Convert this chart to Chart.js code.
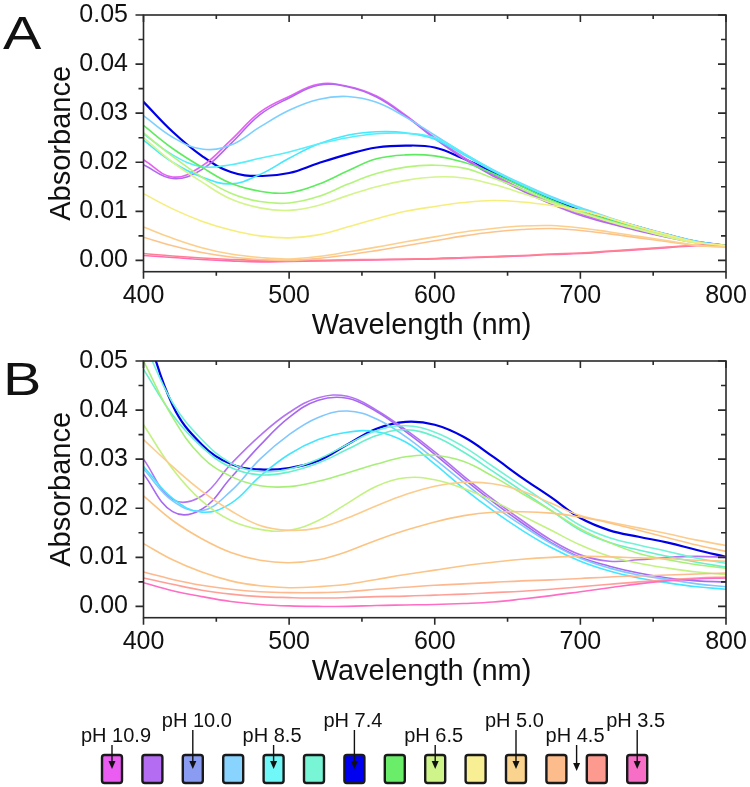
<!DOCTYPE html>
<html>
<head>
<meta charset="utf-8">
<script src="https://cdn.jsdelivr.net/npm/chart.js@4.4.0/dist/chart.umd.min.js"></script>
<style>
  body { margin: 0; background: #fff; width: 750px; height: 787px; position: relative; overflow: hidden; }
  .panel { position: absolute; left: 0; width: 750px; height: 345px; }
  #legend { position: absolute; left: 0; top: 690px; }
</style>
</head>
<body>
<div class="panel" style="top:0"><canvas id="chartA"></canvas></div>
<div class="panel" style="top:346px"><canvas id="chartB"></canvas></div>
<svg id="legend" width="750" height="97"></svg>

<script>
const FONT = '"Liberation Sans", Arial, sans-serif';

// x grid (nm) and axis ticks
const wavelengths = [400, 420, 440, 460, 480, 500, 520, 540, 560, 580, 600, 620, 640, 660, 680, 700, 720, 740, 760, 780, 800];
const xTicks = [400, 500, 600, 700, 800];
const xMinorTicks = [450, 550, 650, 750];
const yTicks = [0, 0.01, 0.02, 0.03, 0.04, 0.05];
const yMinorTicks = [0.005, 0.015, 0.025, 0.035, 0.045];

// Panel A spectra
const aMagenta = [0.0205, 0.0170, 0.0192, 0.0245, 0.0302, 0.0334, 0.0359, 0.0355, 0.0335, 0.0296, 0.0250, 0.0210, 0.0175, 0.0145, 0.0118, 0.0095, 0.0077, 0.0062, 0.0049, 0.0037, 0.0030];
const aPurple = [0.0195, 0.0167, 0.0185, 0.0238, 0.0297, 0.0331, 0.0357, 0.0354, 0.0333, 0.0294, 0.0248, 0.0207, 0.0172, 0.0142, 0.0115, 0.0092, 0.0075, 0.0060, 0.0047, 0.0036, 0.0030];
const aLightBlue = [0.0295, 0.0251, 0.0227, 0.0235, 0.0272, 0.0306, 0.0328, 0.0334, 0.0322, 0.0292, 0.0255, 0.0218, 0.0185, 0.0156, 0.0130, 0.0108, 0.0087, 0.0069, 0.0053, 0.0039, 0.0030];
const aCyan = [0.0245, 0.0200, 0.0170, 0.0156, 0.0175, 0.0208, 0.0237, 0.0255, 0.0262, 0.0260, 0.0247, 0.0215, 0.0182, 0.0153, 0.0127, 0.0105, 0.0085, 0.0067, 0.0051, 0.0037, 0.0030];
const aAqua = [0.0258, 0.0215, 0.0191, 0.0195, 0.0208, 0.0221, 0.0237, 0.0250, 0.0258, 0.0259, 0.0250, 0.0218, 0.0184, 0.0155, 0.0128, 0.0106, 0.0086, 0.0068, 0.0052, 0.0038, 0.0030];
const aBlue = [0.0323, 0.0262, 0.0213, 0.0180, 0.0172, 0.0178, 0.0198, 0.0216, 0.0230, 0.0234, 0.0230, 0.0207, 0.0180, 0.0152, 0.0125, 0.0103, 0.0085, 0.0068, 0.0052, 0.0038, 0.0030];
const aGreen = [0.0275, 0.0228, 0.0190, 0.0157, 0.0141, 0.0138, 0.0155, 0.0182, 0.0207, 0.0215, 0.0213, 0.0200, 0.0177, 0.0150, 0.0123, 0.0100, 0.0082, 0.0065, 0.0050, 0.0036, 0.0030];
const aLightGreen = [0.0260, 0.0212, 0.0170, 0.0137, 0.0120, 0.0117, 0.0130, 0.0155, 0.0177, 0.0190, 0.0194, 0.0188, 0.0168, 0.0145, 0.0120, 0.0099, 0.0080, 0.0064, 0.0049, 0.0036, 0.0030];
const aYellowGreen = [0.0250, 0.0200, 0.0160, 0.0125, 0.0107, 0.0102, 0.0112, 0.0132, 0.0150, 0.0163, 0.0170, 0.0168, 0.0155, 0.0137, 0.0117, 0.0097, 0.0079, 0.0063, 0.0048, 0.0035, 0.0030];
const aYellow = [0.0136, 0.0105, 0.0080, 0.0062, 0.0050, 0.0046, 0.0052, 0.0068, 0.0085, 0.0100, 0.0110, 0.0118, 0.0122, 0.0119, 0.0112, 0.0102, 0.0086, 0.0068, 0.0052, 0.0037, 0.0030];
const aLightOrange = [0.0068, 0.0045, 0.0026, 0.0013, 0.0006, 0.0003, 0.0008, 0.0017, 0.0027, 0.0038, 0.0048, 0.0058, 0.0065, 0.0070, 0.0071, 0.0066, 0.0058, 0.0049, 0.0040, 0.0031, 0.0027];
const aOrange = [0.0047, 0.0030, 0.0016, 0.0007, 0.0002, 0.0000, 0.0004, 0.0011, 0.0020, 0.0030, 0.0040, 0.0050, 0.0058, 0.0063, 0.0065, 0.0061, 0.0054, 0.0046, 0.0038, 0.0030, 0.0027];
const aSalmon = [0.0014, 0.0009, 0.0005, 0.0002, 0.0000, 0.0000, 0.0000, 0.0001, 0.0002, 0.0003, 0.0004, 0.0006, 0.0008, 0.0010, 0.0013, 0.0015, 0.0019, 0.0023, 0.0027, 0.0031, 0.0030];
const aPink = [0.0010, 0.0006, 0.0002, -0.0001, -0.0003, -0.0002, -0.0001, 0.0000, 0.0001, 0.0002, 0.0003, 0.0005, 0.0007, 0.0009, 0.0012, 0.0014, 0.0018, 0.0022, 0.0026, 0.0030, 0.0029];

// Panel B spectra
const bPurple1 = [0.0300, 0.0218, 0.0225, 0.0290, 0.0348, 0.0395, 0.0425, 0.0428, 0.0400, 0.0360, 0.0315, 0.0265, 0.0218, 0.0175, 0.0135, 0.0105, 0.0092, 0.0095, 0.0100, 0.0102, 0.0100];
const bPurple2 = [0.0270, 0.0193, 0.0198, 0.0262, 0.0328, 0.0385, 0.0420, 0.0424, 0.0397, 0.0356, 0.0310, 0.0260, 0.0213, 0.0170, 0.0130, 0.0100, 0.0082, 0.0068, 0.0058, 0.0052, 0.0050];
const bLightBlue = [0.0280, 0.0215, 0.0195, 0.0235, 0.0300, 0.0350, 0.0385, 0.0398, 0.0382, 0.0346, 0.0300, 0.0252, 0.0206, 0.0165, 0.0128, 0.0098, 0.0078, 0.0064, 0.0055, 0.0046, 0.0040];
const bCyan = [0.0285, 0.0220, 0.0192, 0.0210, 0.0265, 0.0310, 0.0340, 0.0355, 0.0356, 0.0335, 0.0290, 0.0240, 0.0195, 0.0155, 0.0120, 0.0092, 0.0072, 0.0058, 0.0048, 0.0040, 0.0035];
const bTeal1 = [0.0540, 0.0415, 0.0340, 0.0292, 0.0275, 0.0280, 0.0300, 0.0330, 0.0358, 0.0368, 0.0355, 0.0325, 0.0285, 0.0245, 0.0205, 0.0165, 0.0140, 0.0125, 0.0112, 0.0098, 0.0088];
const bTeal2 = [0.0483, 0.0390, 0.0325, 0.0283, 0.0268, 0.0274, 0.0292, 0.0320, 0.0348, 0.0360, 0.0346, 0.0314, 0.0275, 0.0235, 0.0195, 0.0155, 0.0130, 0.0115, 0.0102, 0.0090, 0.0080];
const bBlue = [0.0580, 0.0410, 0.0330, 0.0290, 0.0279, 0.0282, 0.0297, 0.0330, 0.0362, 0.0376, 0.0370, 0.0345, 0.0305, 0.0262, 0.0222, 0.0180, 0.0155, 0.0142, 0.0130, 0.0115, 0.0101];
const bGreen = [0.0500, 0.0385, 0.0305, 0.0265, 0.0246, 0.0244, 0.0255, 0.0272, 0.0290, 0.0305, 0.0308, 0.0295, 0.0265, 0.0230, 0.0195, 0.0158, 0.0130, 0.0108, 0.0095, 0.0085, 0.0078];
const bLightGreen = [0.0370, 0.0280, 0.0215, 0.0175, 0.0157, 0.0155, 0.0175, 0.0210, 0.0245, 0.0262, 0.0258, 0.0240, 0.0215, 0.0185, 0.0155, 0.0125, 0.0102, 0.0088, 0.0078, 0.0070, 0.0065];
const bLightOrange = [0.0340, 0.0285, 0.0235, 0.0195, 0.0165, 0.0155, 0.0160, 0.0180, 0.0205, 0.0228, 0.0245, 0.0253, 0.0250, 0.0235, 0.0210, 0.0185, 0.0172, 0.0160, 0.0148, 0.0135, 0.0124];
const bOrange = [0.0225, 0.0175, 0.0138, 0.0110, 0.0094, 0.0089, 0.0095, 0.0112, 0.0135, 0.0155, 0.0172, 0.0185, 0.0192, 0.0193, 0.0190, 0.0182, 0.0170, 0.0155, 0.0140, 0.0125, 0.0112];
const bPeach = [0.0128, 0.0095, 0.0070, 0.0052, 0.0042, 0.0038, 0.0040, 0.0045, 0.0055, 0.0065, 0.0074, 0.0083, 0.0090, 0.0096, 0.0100, 0.0102, 0.0101, 0.0099, 0.0097, 0.0094, 0.0092];
const bApricot = [0.0070, 0.0055, 0.0043, 0.0035, 0.0030, 0.0028, 0.0028, 0.0030, 0.0035, 0.0039, 0.0043, 0.0046, 0.0049, 0.0052, 0.0054, 0.0057, 0.0060, 0.0062, 0.0064, 0.0066, 0.0068];
const bSalmon = [0.0058, 0.0045, 0.0033, 0.0025, 0.0020, 0.0018, 0.0017, 0.0018, 0.0020, 0.0021, 0.0023, 0.0025, 0.0028, 0.0031, 0.0035, 0.0040, 0.0045, 0.0050, 0.0054, 0.0058, 0.0060];
const bPink = [0.0048, 0.0032, 0.0020, 0.0010, 0.0004, 0.0001, 0.0000, 0.0000, 0.0002, 0.0003, 0.0004, 0.0006, 0.0009, 0.0015, 0.0022, 0.0030, 0.0038, 0.0046, 0.0052, 0.0056, 0.0058];

// Legend (pH colour key)
const swatchColors = ['#ea5cf2', '#b46cf2', '#8a9bf2', '#88d4ff', '#70f8f8', '#77f5d5', '#0000f0', '#6aee6a', '#cff58a', '#f8ef94', '#fad38f', '#fdbc8c', '#fc9a90', '#f66ec6'];
const phLabels = ['pH 10.9', 'pH 10.0', 'pH 8.5', 'pH 7.4', 'pH 6.5', 'pH 5.0', 'pH 4.5', 'pH 3.5'];

// colour / width for each line
const seriesA = [
  [aYellow, '#f6ee7c'], [aLightOrange, '#fcd08c'], [aOrange, '#fcc48c'], [aSalmon, '#ff8094'], [aPink, '#ff6cb0'],
  [aYellowGreen, '#d4f48c'], [aLightGreen, '#b4f47c'], [aGreen, '#5eec5e'],
  [aAqua, '#58eefa'], [aCyan, '#44e8ff'], [aLightBlue, '#7cd0ff'],
  [aPurple, '#b068f2'], [aMagenta, '#e862f0'],
  [aBlue, '#0000e6', 2.2],
];
const seriesB = [
  [bPink, '#ff6ec4'], [bSalmon, '#ffa098'], [bApricot, '#fdb890'], [bPeach, '#fcc486'], [bOrange, '#fcc484'], [bLightOrange, '#fccc8c'],
  [bLightGreen, '#c4f282'], [bGreen, '#a8ef78'],
  [bTeal2, '#66f0cc'], [bTeal1, '#70f2d6'],
  [bCyan, '#44e6ff'], [bLightBlue, '#80c8ff'],
  [bPurple2, '#a868f0'], [bPurple1, '#b474f2'],
  [bBlue, '#0000e6', 2.2],
];

// frame with mirrored ticks, panel letter and x title
const framePlugin = {
  id: 'frame',
  afterDraw(chart, args, opts) {
    const { ctx, chartArea: a, scales: { x, y } } = chart;
    ctx.save();
    ctx.strokeStyle = '#2a2a2a';
    ctx.lineWidth = 1.6;
    ctx.strokeRect(a.left, a.top, a.right - a.left, a.bottom - a.top);
    ctx.beginPath();
    const xs = xTicks.map(v => [v, 7]).concat(xMinorTicks.map(v => [v, 4]));
    xs.forEach(([v, len]) => {
      const p = x.getPixelForValue(v);
      ctx.moveTo(p, a.bottom); ctx.lineTo(p, a.bottom + len);
      ctx.moveTo(p, a.top); ctx.lineTo(p, a.top + len);
    });
    const ys = yTicks.map(v => [v, 8]).concat(yMinorTicks.map(v => [v, 5]));
    ys.forEach(([v, len]) => {
      const p = y.getPixelForValue(v);
      ctx.moveTo(a.left, p); ctx.lineTo(a.left - len, p);
      ctx.moveTo(a.right, p); ctx.lineTo(a.right - len, p);
    });
    ctx.stroke();

    ctx.fillStyle = '#111';
    ctx.font = '46px ' + FONT;
    ctx.textAlign = 'left';
    ctx.textBaseline = 'alphabetic';
    ctx.translate(3, 49);
    ctx.scale(1.25, 1);
    ctx.fillText(opts.letter, 0, 0);
    ctx.setTransform(1, 0, 0, 1, 0, 0);

    ctx.font = '29px ' + FONT;
    ctx.textAlign = 'center';
    ctx.fillText('Wavelength (nm)', 421.5, 334);
    ctx.restore();
  }
};

function makeChart(id, series, letter) {
  return new Chart(document.getElementById(id), {
    type: 'line',
    data: {
      datasets: series.map(([vals, color, width]) => ({
        data: vals.map((v, i) => ({ x: wavelengths[i], y: v })),
        borderColor: color,
        borderWidth: width || 1.6,
        pointRadius: 0,
        fill: false,
        tension: 0.4,
      })),
    },
    options: {
      responsive: true,
      maintainAspectRatio: false,
      animation: false,
      events: [],
      layout: { padding: { top: 15, right: 24, left: 0, bottom: 0 } },
      plugins: { legend: { display: false }, tooltip: { enabled: false }, frame: { letter } },
      scales: {
        x: {
          type: 'linear', min: 400, max: 800,
          grid: { display: false, drawTicks: false }, border: { display: false },
          afterBuildTicks: s => { s.ticks = xTicks.map(v => ({ value: v })); },
          afterFit: s => { s.height = 73.3; s.paddingLeft = 0; s.paddingRight = 0; },
          ticks: { padding: 9, color: '#111', maxRotation: 0, autoSkip: false, font: { family: FONT, size: 25 } },
        },
        y: {
          min: -0.0023, max: 0.05,
          grid: { display: false, drawTicks: false }, border: { display: false },
          afterBuildTicks: s => { s.ticks = yTicks.map(v => ({ value: v })); },
          afterFit: s => { s.width = 143.5; s.paddingTop = 0; s.paddingBottom = 0; },
          ticks: { padding: 15.5, color: '#111', font: { family: FONT, size: 25 }, callback: v => v.toFixed(2) },
          title: { display: true, text: 'Absorbance', color: '#111', font: { family: FONT, size: 29 }, padding: { top: 44.6, bottom: 0 } },
        },
      },
    },
    plugins: [framePlugin],
  });
}

makeChart('chartA', seriesA, 'A');
makeChart('chartB', seriesB, 'B');

// legend boxes, labels and arrows
const svgNS = 'http://www.w3.org/2000/svg';
const legend = document.getElementById('legend');
const top0 = 690;
const boxX = i => 112 + 40.4 * i;
function el(tag, attrs, text) {
  const e = document.createElementNS(svgNS, tag);
  Object.entries(attrs).forEach(([k, v]) => e.setAttribute(k, v));
  if (text) e.textContent = text;
  legend.appendChild(e);
  return e;
}
swatchColors.forEach((c, i) => {
  el('rect', { x: boxX(i) - 10, y: 755 - top0, width: 20, height: 28, rx: 2.5, fill: c, stroke: '#1a1a1a', 'stroke-width': 2.4 });
});
const labelSlots = [0, 2, 4, 6, 8, 10, 11.5, 13];
phLabels.forEach((t, k) => {
  const cx = boxX(labelSlots[k]);
  const high = k % 2 === 1;
  const base = (high ? 727 : 742) - top0;
  const tip = (labelSlots[k] % 1 ? 771 : 769) - top0;
  el('text', { x: cx - 31, y: base, 'font-family': FONT, 'font-size': 20, fill: '#111' }, t);
  el('line', { x1: cx, y1: base + 3, x2: cx, y2: tip - 6, stroke: '#111', 'stroke-width': 1.4 });
  el('polygon', { points: `${cx - 3.5},${tip - 8} ${cx + 3.5},${tip - 8} ${cx},${tip}`, fill: '#111' });
});
</script>
</body>
</html>
